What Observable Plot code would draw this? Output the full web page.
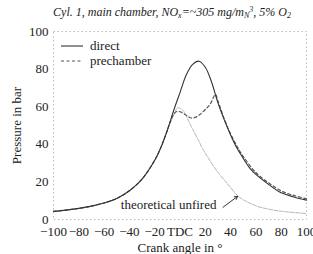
<!DOCTYPE html>
<html><head><meta charset="utf-8">
<script src="https://cdn.jsdelivr.net/npm/d3@7"></script>
<script src="https://cdn.jsdelivr.net/npm/@observablehq/plot@0.6"></script>
<style>
body{margin:0;background:#fff;}
#wrap{position:relative;width:313px;height:254px;font-family:"Liberation Serif","DejaVu Serif",serif;color:#222;}
#title{height:22px;line-height:24px;text-align:center;font-style:italic;font-size:12px;padding-left:31px;box-sizing:border-box;white-space:nowrap;}
#title sub{font-size:8px;vertical-align:-2px;line-height:0}
#title sup{font-size:8px;vertical-align:4px;line-height:0}
#legend{position:absolute;left:61px;top:38px;font-size:13px;line-height:15px;}
#legend div{display:flex;align-items:center;height:15px}
#legend svg{margin-right:7px}
#chart svg, #chart svg text{font-family:"Liberation Serif","DejaVu Serif",serif !important;}
</style></head>
<body>
<div id="wrap">
<div id="title">Cyl. 1, main chamber, NO<sub>x</sub>=~305 mg/m<sub>N</sub><sup>3</sup>, 5% O<sub>2</sub></div>
<div id="chart"></div>
<div id="legend"></div>
</div>
<script>
const directAngle = [-100,-90,-80,-70,-60,-50,-40,-30,-20,-15,-10,-5,0,5,10,15,20,25,30,35,40,45,50,55,60,70,80,90,100];
const directP     = [4.3,5.0,5.9,7.1,8.8,11.2,15.3,21.5,31.5,38.5,47.5,58,67.5,77,82.5,84.2,81,73,62,53,45,38,32.5,27.5,24,18.7,14.2,12,10.3];
const preAngle = [-100,-90,-80,-70,-60,-50,-40,-30,-20,-15,-10,-8,-5,-3,0,3,6,9,12,16,20,24,28,30,35,40,45,50,60,70,80,90,100];
const preP     = [4.3,5.0,5.9,7.1,8.8,11.2,15.3,21.5,31.5,38.5,47.5,51.5,56,57.3,57.3,56.3,55,54,54.3,56,58.5,61.5,66.5,63,53.5,45.5,39,33.5,25,19.5,15.2,12.8,11];
const motAngle = [-100,-90,-80,-70,-60,-50,-40,-30,-20,-15,-10,-5,-2,0,3,6,10,14,18,24,30,35,40,45,50,60,70,80,90,100];
const motP     = [4.3,5.0,5.9,7.1,8.8,11.2,15.3,21.5,31.5,38.5,47.5,55.5,59.3,59.2,57.5,53.5,48,43,37.5,31,25,21,17,13,10.5,7.3,5.5,4.4,3.7,3.2];
const xTicks = [-100,-80,-60,-40,-20,0,20,40,60,80,100];
const yTicks = [0,20,40,60,80,100];
const seriesNames = ["direct","prechamber"];
const noteText = ["theoretical unfired"];
const noteX = [-9], noteY = [7.8];
const arrowFrom = [34, 6.5], arrowTo = [45.5, 12.3];

const zip = (a, b) => a.map((x, i) => ({x, y: b[i]}));
const direct = zip(directAngle, directP);
const pre = zip(preAngle, preP);
const mot = zip(motAngle, motP);

const chart = Plot.plot({
  width: 313, height: 232,
  marginLeft: 53, marginRight: 7, marginTop: 9, marginBottom: 35,
  style: 'font-family: "Liberation Serif","DejaVu Serif",serif; font-size: 13px; color: #222; background: #fff; overflow: visible;',
  x: {domain: [-100, 100]},
  y: {domain: [0, 100]},
  marks: [
    Plot.frame({stroke: "#bbb", strokeDasharray: "1.5,2.5"}),
    Plot.axisX({ticks: xTicks, tickSize: 0, tickPadding: 7, tickFormat: d => d === 0 ? "TDC" : (d < 0 ? "\u2212" + (-d) : String(d)),
      label: "Crank angle in \u00b0", labelAnchor: "center", labelArrow: "none", labelOffset: 32}),
    Plot.axisY({ticks: yTicks, tickSize: 0, tickPadding: 5, label: "Pressure in bar", labelAnchor: "center", labelArrow: "none", labelOffset: 42}),
    Plot.line(mot, {x: "x", y: "y", stroke: "#b4b4b4", strokeWidth: 1, strokeDasharray: "4,1.5", curve: "catmull-rom"}),
    Plot.line(pre, {x: "x", y: "y", stroke: "#555", strokeWidth: 1.2, strokeDasharray: "3,2.5", curve: "catmull-rom"}),
    Plot.line(direct, {x: "x", y: "y", stroke: "#333", strokeWidth: 1.1, curve: "catmull-rom"}),
    Plot.text(noteText, {x: noteX, y: noteY, text: d => d, fontSize: 13, fill: "#222"}),
    Plot.arrow([{x1: arrowFrom[0], y1: arrowFrom[1], x2: arrowTo[0], y2: arrowTo[1]}], {x1: "x1", y1: "y1", x2: "x2", y2: "y2", stroke: "#333", strokeWidth: 1, headLength: 5, bend: 0})
  ]
});
document.getElementById("chart").appendChild(chart);

const legend = document.getElementById("legend");
const dashes = ["", "3,2.5"];
const colors = ["#333", "#555"];
seriesNames.forEach((n, i) => {
  const row = document.createElement("div");
  row.innerHTML = `<svg width="22" height="6"><line x1="0" x2="22" y1="3" y2="3" stroke="${colors[i]}" stroke-width="1.1" stroke-dasharray="${dashes[i]}"/></svg><span>${n}</span>`;
  legend.appendChild(row);
});
</script>
</body></html>
